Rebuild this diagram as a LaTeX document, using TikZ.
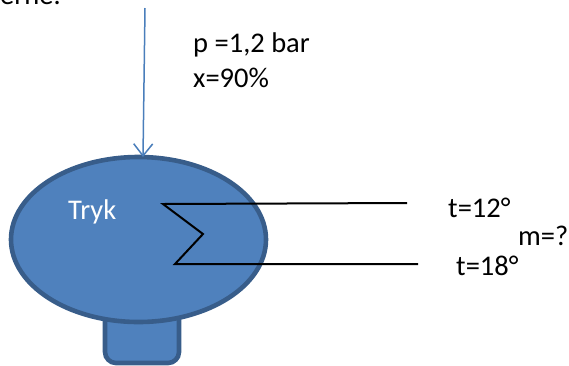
\documentclass[tikz,border=0pt]{standalone}
\usepackage{fontspec}
\setmainfont{Carlito}
\usetikzlibrary{arrows.meta,shapes.geometric}
\definecolor{tankfill}{HTML}{4F81BD}
\definecolor{tankline}{HTML}{385D8A}
\definecolor{pipeblue}{HTML}{4A7EBB}
\tikzset{
  tankpart/.style={fill=tankfill,draw=tankline,line width=4.6pt},
  label/.style={anchor=base west,inner sep=0pt,font=\fontsize{28.5}{28.5}\selectfont,text=black},
  coil/.style={draw=black,line width=2pt,line join=miter},
  feed/.style={draw=pipeblue,line width=1.5pt,-{Straight Barb[length=12pt,width=19pt,line width=1.5pt]}}
}
\begin{document}
\begin{tikzpicture}[x=1pt,y=-1pt]
\useasboundingbox (0,0) rectangle (569,365);
\begin{scope}
\clip (0,0) rectangle (569,365);
\node[label] (top) at (0,4) {erne:};
\end{scope}
\draw[tankpart,rounded corners=11pt] (105,300) -- (105,363) -- (179,363) -- (179,300) -- cycle;
\node[tankpart,ellipse,minimum width=255pt,minimum height=165pt,inner sep=0pt,outer sep=0pt] (tank) at (138.5,239.5) {};
\coordinate (in) at (145,8);
\coordinate (c1) at (163,204);
\coordinate (c2) at (203,234);
\coordinate (c3) at (175,264);
\coordinate (out1) at (407,203);
\coordinate (out2) at (418,264);
\draw[feed] (in) -- (143,157);
\draw[coil] (out1) -- (c1) -- (c2) -- (c3) -- (out2);
\node[label] (p) at (193,52) {p =1,2 bar};
\node[label] (x) at (193,87) {x=90\%};
\node[label,text=white] (tryk) at (68,219) {Tryk};
\node[label] (t1) at (448,217) {t=12°};
\node[label] (m) at (518,245) {m=?};
\node[label] (t2) at (456,275) {t=18°};
\end{tikzpicture}
\end{document}
